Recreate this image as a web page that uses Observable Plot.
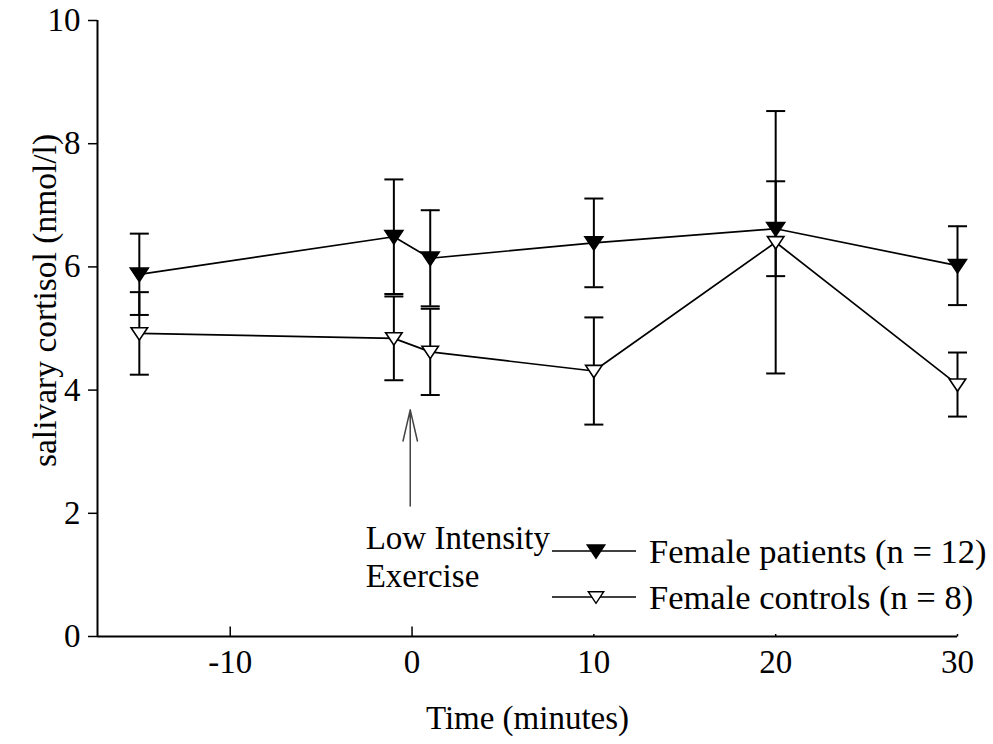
<!DOCTYPE html>
<html>
<head>
<meta charset="utf-8">
<script src="https://cdn.jsdelivr.net/npm/d3@7"></script>
<script src="https://cdn.jsdelivr.net/npm/@observablehq/plot@0.6"></script>
<style>
  body { margin: 0; background: #fff; }
  #wrap { position: relative; width: 993px; height: 744px; font-family: "Liberation Serif", "Times New Roman", serif; }
  #legend { position: absolute; left: 552px; top: 528px; font-size: 34.5px; color: #000; }
  .row { display: flex; align-items: center; height: 46px; white-space: nowrap; }
  .row svg { display: block; margin-right: 13px; }
</style>
</head>
<body>
<div id="wrap">
  <div id="chart"></div>
  <div id="legend"></div>
</div>
<script>
// ---- data ----
const times = [-15, -1, 1, 10, 20, 30];
const patientsMean = [5.88, 6.49, 6.14, 6.39, 6.62, 6.02];
const patientsSE   = [0.66, 0.93, 0.78, 0.72, 0.77, 0.64];
const controlsMean = [4.92, 4.84, 4.62, 4.31, 6.40, 4.09];
const controlsSE   = [0.67, 0.68, 0.70, 0.87, 2.13, 0.52];
const seriesNames = ["Female patients (n = 12)", "Female controls (n = 8)"];
const xTicksMajor = [-10, 0];
const xTicksMinor = [10, 20, 30];
const xTickLabels = [-10, 0, 10, 20, 30];
const yTicks = [0, 2, 4, 6, 8, 10];
const xLabel = "Time (minutes)";
const yLabel = "salivary cortisol (nmol/l)";
const arrowX = [-0.1];
const arrowYFrom = [2.12];
const arrowYTo = [3.68];
const annoX = [-2.55];
const annoY = [1.86];
const annoText = ["Low Intensity\nExercise"];

// ---- tables ----
const patients = times.map((t, i) => ({t, m: patientsMean[i], se: patientsSE[i]}));
const controls = times.map((t, i) => ({t, m: controlsMean[i], se: controlsSE[i]}));

// ---- custom symbols ----
const triDown = {draw(ctx, size) {
  const r = Math.sqrt(size / Math.PI);
  ctx.moveTo(-r * 1.1, -r * 0.75);
  ctx.lineTo(r * 1.1, -r * 0.75);
  ctx.lineTo(0, r * 0.9);
  ctx.closePath();
}};
const hCap = {draw(ctx, size) {
  const r = Math.sqrt(size / Math.PI);
  ctx.moveTo(-r, 0); ctx.lineTo(r, 0);
}};
const vTick = {draw(ctx, size) {
  const r = Math.sqrt(size / Math.PI);
  ctx.moveTo(0, 0); ctx.lineTo(0, -r);
}};

const font = "Liberation Serif, Times New Roman, serif";
const fs = 33;

function errMarks(data) {
  return [
    Plot.ruleX(data, {x: "t", y1: d => d.m - d.se, y2: d => d.m + d.se, stroke: "#000", strokeWidth: 2}),
    Plot.dot(data, {x: "t", y: d => d.m + d.se, symbol: hCap, r: 9.5, stroke: "#000", strokeWidth: 2, fill: "none"}),
    Plot.dot(data, {x: "t", y: d => d.m - d.se, symbol: hCap, r: 9.5, stroke: "#000", strokeWidth: 2, fill: "none"})
  ];
}

const chart = Plot.plot({
  width: 993,
  height: 744,
  marginLeft: 97,
  marginRight: 36,
  marginTop: 20,
  marginBottom: 108,
  style: {fontFamily: font, background: "#fff", color: "#000", overflow: "visible"},
  x: {domain: [-17.3, 30]},
  y: {domain: [0, 10]},
  marks: [
    // axes
    Plot.axisY({ticks: yTicks, tickSize: 9, tickPadding: 8, fontSize: fs, label: null, stroke: "#000", strokeWidth: 1.5}),
    Plot.axisX({ticks: xTickLabels, tickSize: 0, tickPadding: 13, fontSize: fs, label: null, tickFormat: d => String(d)}),
    Plot.dot(xTicksMajor, {x: d => d, frameAnchor: "bottom", symbol: vTick, r: 10, stroke: "#000", strokeWidth: 1.5}),
    Plot.dot(xTicksMinor, {x: d => d, frameAnchor: "bottom", symbol: vTick, r: 2.5, stroke: "#000", strokeWidth: 1.5}),
    Plot.ruleY([0], {stroke: "#000", strokeWidth: 2}),
    Plot.ruleX([-17.3], {stroke: "#000", strokeWidth: 2}),
    // axis labels
    Plot.text([xLabel], {frameAnchor: "bottom", dy: 82, fontSize: fs, text: d => d, lineAnchor: "middle"}),
    Plot.text([yLabel], {frameAnchor: "top-left", dx: -52, dy: 280, rotate: -90, fontSize: 33.5, text: d => d, textAnchor: "middle", lineAnchor: "middle"}),
    // annotation
    Plot.arrow(arrowX, {x1: d => d, x2: d => d, y1: (d, i) => arrowYFrom[i], y2: (d, i) => arrowYTo[i],
      stroke: "#444", strokeWidth: 1.5, headLength: 40, headAngle: 26}),
    Plot.text(annoText, {x: (d, i) => annoX[i], y: (d, i) => annoY[i], text: d => d,
      textAnchor: "start", lineAnchor: "top", fontSize: fs, lineHeight: 1.15, fill: "#000"}),
    // error bars
    ...errMarks(patients),
    ...errMarks(controls),
    // lines
    Plot.line(patients, {x: "t", y: "m", stroke: "#000", strokeWidth: 1.7}),
    Plot.line(controls, {x: "t", y: "m", stroke: "#000", strokeWidth: 1.7}),
    // markers
    Plot.dot(patients, {x: "t", y: "m", symbol: triDown, r: 8.5, fill: "#000", stroke: "#000", strokeWidth: 1.2}),
    Plot.dot(controls, {x: "t", y: "m", symbol: triDown, r: 7.5, fill: "#fff", stroke: "#000", strokeWidth: 1.6})
  ]
});
document.getElementById("chart").appendChild(chart);

// ---- legend ----
const legend = d3.select("#legend");
seriesNames.forEach((name, i) => {
  const row = legend.append("div").attr("class", "row");
  const svg = row.append("svg").attr("width", 84).attr("height", 26);
  svg.append("line").attr("x1", 0).attr("x2", 84).attr("y1", 13).attr("y2", 13)
    .attr("stroke", "#000").attr("stroke-width", 1.7);
  const r = i === 0 ? 8 : 7;
  svg.append("path")
    .attr("d", `M${44 - r * 1.1},${13 - r * 0.75}L${44 + r * 1.1},${13 - r * 0.75}L44,${13 + r * 0.9}Z`)
    .attr("fill", i === 0 ? "#000" : "#fff").attr("stroke", "#000").attr("stroke-width", 1.4);
  row.append("span").text(name);
});
</script>
</body>
</html>
